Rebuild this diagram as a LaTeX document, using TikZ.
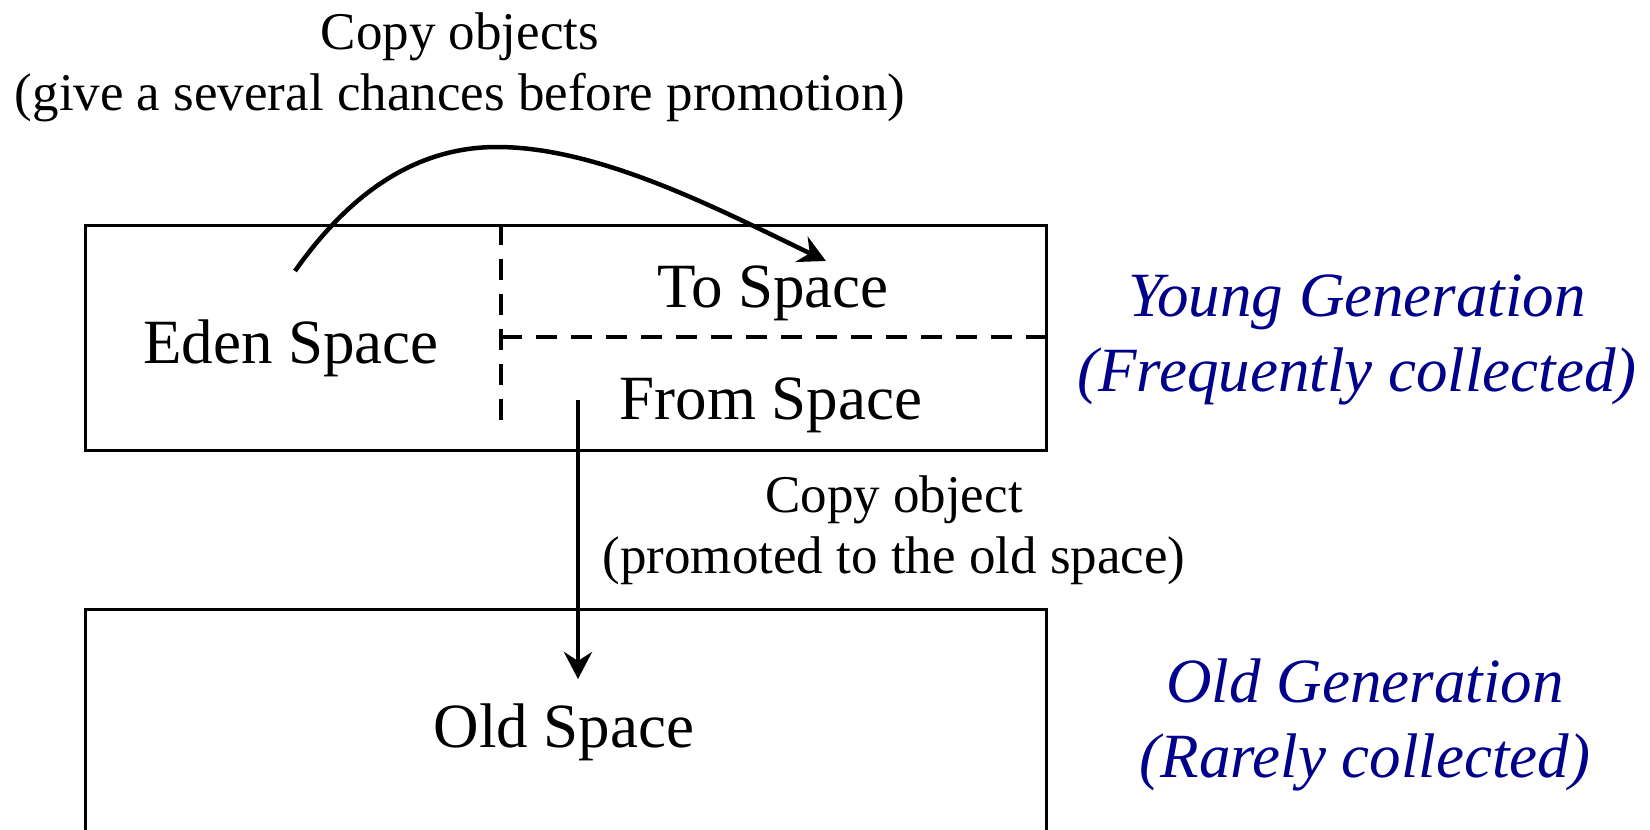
\documentclass[tikz,border=0pt]{standalone}
\usepackage{fontspec}
\setmainfont{Liberation Serif}
\usetikzlibrary{arrows.meta}
\definecolor{gennavy}{RGB}{0,0,139}
\begin{document}
\begin{tikzpicture}[x=1pt,y=-1pt,
  region/.style={draw=black, line width=2.5pt, inner sep=0pt, anchor=north west},
  divider/.style={line width=4.5pt, dash pattern=on 21pt off 14pt},
  spacelabel/.style={font=\fontsize{63}{75}\selectfont, inner sep=0pt, anchor=base},
  note/.style={font=\fontsize{53}{61}\selectfont, align=center, inner sep=0pt, anchor=base},
  genlabel/.style={font=\itshape\fontsize{63}{75}\selectfont, text=gennavy, align=center, inner sep=0pt, anchor=base},
  flow/.style={line width=4.5pt, -{Stealth[length=27pt,width=28pt,inset=9pt]}}
]
\useasboundingbox (0,0) rectangle (1650,830);
\clip (0,0) rectangle (1650,830);

% heap regions
\node[region, minimum width=961pt, minimum height=225pt] (young) at (84,224) {};
\node[region, minimum width=961pt, minimum height=260pt] (old) at (84,608) {};

% survivor space dividers
\draw[divider] (501,224) -- (501,433);
\draw[divider] (501,337) -- (1045,337);

% space names
\node[spacelabel] (eden) at (291,363) {Eden Space};
\node[spacelabel] (to) at (773,307) {To Space};
\node[spacelabel] (from) at (771,419) {From Space};
\node[spacelabel] (oldsp) at (564,747) {Old Space};

% generation labels (anchored at the last line's baseline)
\node[genlabel] (younglbl) at (1357,391) {Young Generation\\(Frequently collected)};
\node[genlabel] (oldlbl) at (1365,777) {Old Generation\\(Rarely collected)};

% copy notes
\node[note] (copyup) at (460,110) {Copy objects\\(give a several chances before promotion)};
\node[note] (copydown) at (894,573) {Copy object\\(promoted to the old space)};

% copy paths
\coordinate (lift) at (295,271);
\coordinate (drop) at (826,261);
\coordinate (fromtap) at (578,400);
\coordinate (oldtap) at (578,679);
\draw[flow] (lift) .. controls (345,200) and (410,147) .. (497,147)
  .. controls (600,147) and (720,210) .. (drop);
\draw[flow] (fromtap) -- (oldtap);
\end{tikzpicture}
\end{document}
